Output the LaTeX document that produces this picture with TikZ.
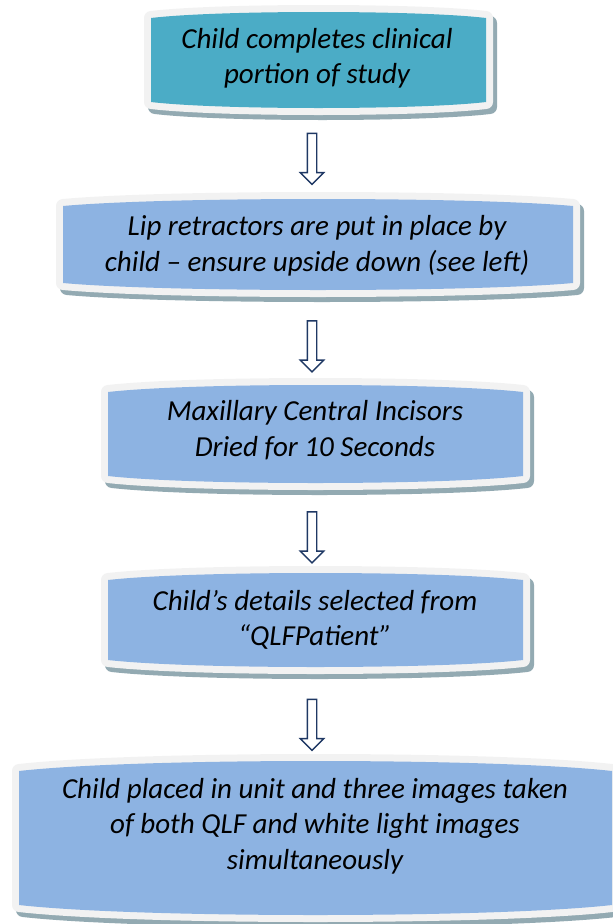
\documentclass[tikz,border=0pt]{standalone}
\usepackage{fontspec}
\setmainfont{Carlito}
\usetikzlibrary{shapes.arrows}

\definecolor{tealfill}{HTML}{4BACC6}
\definecolor{bluefill}{HTML}{8DB3E2}
\definecolor{rimgray}{HTML}{F2F2F2}
\definecolor{shadowgray}{HTML}{93AAB2}
\definecolor{arrownavy}{RGB}{31,56,100}

% bulged box: left, right, top, bottom (centre), bulge
\newcommand{\bulgepath}[5]{(#1,{#3+#5}) .. controls ({#1+0.2*(#2-#1)},{#3-#5/3}) and ({#2-0.2*(#2-#1)},{#3-#5/3}) .. (#2,{#3+#5})
  -- (#2,{#4-#5}) .. controls ({#2-0.2*(#2-#1)},{#4+#5/3}) and ({#1+0.2*(#2-#1)},{#4+#5/3}) .. (#1,{#4-#5}) -- cycle}
\newcommand{\flowbox}[6]{%
  \path[shadowgray, draw, fill, line width=14pt, line join=round, shift={(4,5)}] \bulgepath{#1}{#2}{#3}{#4}{#5};
  \path[rimgray, draw, fill, line width=14pt, line join=round] \bulgepath{#1}{#2}{#3}{#4}{#5};
  \fill[#6] \bulgepath{#1}{#2}{#3}{#4}{#5};}

\tikzset{
  steptext/.style={align=center, inner sep=0pt, font=\fontsize{29}{35.5}\selectfont\itshape},
  downarrow/.style={single arrow, draw=arrownavy, line width=1.4pt, fill=white,
    shape border rotate=270, inner sep=4pt, single arrow head extend=7pt,
    minimum height=51pt}
}

\begin{document}
\begin{tikzpicture}[x=1pt, y=-1pt]
  \useasboundingbox (0,0) rectangle (613,924);
  % boxes
  \flowbox{151}{486}{12}{108}{6}{tealfill}
  \flowbox{63}{573}{199}{290}{7}{bluefill}
  \flowbox{108}{523}{385}{483}{7}{bluefill}
  \flowbox{108}{523}{573}{667}{7}{bluefill}
  \flowbox{19}{612}{761}{915}{10}{bluefill}
  % texts
  \node[steptext] (s1) at (317,58.5) {Child completes clinical\\portion of study};
  \node[steptext] (s2) at (317,246) {Lip retractors are put in place by\\child -- ensure upside down (see left)};
  \node[steptext] (s3) at (315,430) {Maxillary Central Incisors\\Dried for 10 Seconds};
  \node[steptext] (s4) at (315,620) {Child’s details selected from\\“QLFPatient”};
  \node[steptext] (s5) at (315,826) {Child placed in unit and three images taken\\of both QLF and white light images\\simultaneously};
  % arrows
  \foreach \y [count=\i] in {156.5,344,535,722.5}
    \node[downarrow] (a\i) at (312,\y) {};
\end{tikzpicture}
\end{document}
